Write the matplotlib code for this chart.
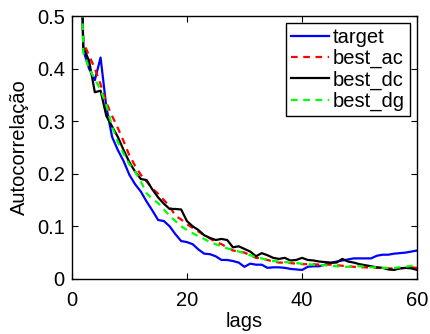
import numpy as np
import matplotlib
matplotlib.use("Agg")
import matplotlib.pyplot as plt

plt.rcParams['font.family'] = ['Liberation Sans', 'DejaVu Sans']

lags = np.arange(1, 61)

target = [0.9, 0.435, 0.40, 0.378, 0.421, 0.327, 0.27, 0.245, 0.224, 0.198,
          0.18, 0.166, 0.147, 0.13, 0.112, 0.11, 0.10, 0.085, 0.072, 0.07,
          0.066, 0.056, 0.048, 0.047, 0.043, 0.036, 0.036, 0.034, 0.031, 0.023,
          0.029, 0.027, 0.027, 0.021, 0.022, 0.022, 0.021, 0.019, 0.018, 0.017,
          0.023, 0.024, 0.024, 0.027, 0.03, 0.033, 0.035, 0.037, 0.039, 0.039,
          0.039, 0.039, 0.044, 0.046, 0.046, 0.048, 0.049, 0.05, 0.052, 0.054]

best_ac = [0.9, 0.45, 0.425, 0.40, 0.37, 0.335, 0.31, 0.287, 0.262, 0.235,
           0.215, 0.198, 0.185, 0.172, 0.162, 0.15, 0.138, 0.12, 0.113, 0.104,
           0.097, 0.09, 0.083, 0.077, 0.07, 0.066, 0.06, 0.054, 0.052, 0.05,
           0.045, 0.04, 0.039, 0.036, 0.033, 0.031, 0.031, 0.03, 0.029, 0.028,
           0.028, 0.028, 0.027, 0.027, 0.027, 0.026, 0.025, 0.024, 0.023, 0.022,
           0.022, 0.021, 0.021, 0.021, 0.02, 0.02, 0.02, 0.021, 0.022, 0.021]

best_dc = [0.9, 0.44, 0.415, 0.355, 0.358, 0.31, 0.29, 0.27, 0.245, 0.222,
           0.204, 0.19, 0.188, 0.17, 0.155, 0.143, 0.133, 0.133, 0.132, 0.11,
           0.10, 0.093, 0.083, 0.078, 0.074, 0.076, 0.074, 0.06, 0.062, 0.057,
           0.052, 0.043, 0.049, 0.045, 0.04, 0.038, 0.04, 0.035, 0.036, 0.04,
           0.036, 0.035, 0.033, 0.032, 0.031, 0.031, 0.038, 0.033, 0.031, 0.028,
           0.026, 0.024, 0.022, 0.021, 0.018, 0.017, 0.02, 0.021, 0.02, 0.017]

best_dg = [0.9, 0.43, 0.40, 0.38, 0.36, 0.33, 0.29, 0.26, 0.238, 0.218,
           0.204, 0.185, 0.163, 0.152, 0.144, 0.132, 0.12, 0.11, 0.10, 0.093,
           0.087, 0.081, 0.076, 0.07, 0.066, 0.062, 0.058, 0.055, 0.052, 0.049,
           0.045, 0.041, 0.039, 0.036, 0.034, 0.033, 0.032, 0.031, 0.03, 0.029,
           0.028, 0.027, 0.026, 0.026, 0.025, 0.024, 0.023, 0.023, 0.024, 0.024,
           0.023, 0.022, 0.022, 0.021, 0.021, 0.021, 0.022, 0.023, 0.025, 0.024]

fig = plt.figure(figsize=(4.3, 3.34), dpi=100)
ax = fig.add_axes([0.167, 0.165, 0.803, 0.787])

ax.plot(lags, target, color='#0000ff', lw=1.6, label='target')
ax.plot(lags, best_ac, color='#ff0000', lw=1.6, ls=(0, (3, 2.5)), label='best_ac')
ax.plot(lags, best_dc, color='black', lw=1.6, label='best_dc')
ax.plot(lags, best_dg, color='#00ff00', lw=1.6, ls=(0, (3, 2.5)), label='best_dg')

ax.set_xlim(0, 60)
ax.set_ylim(0, 0.5)
ax.set_xticks([0, 20, 40, 60])
ax.set_yticks([0, 0.1, 0.2, 0.3, 0.4, 0.5])
ax.set_yticklabels(['0', '0.1', '0.2', '0.3', '0.4', '0.5'])
ax.tick_params(direction='in', top=True, right=True, labelsize=14.5, length=4, width=0.8)
ax.tick_params(axis='x', pad=9)
ax.tick_params(axis='y', pad=5)
for s in ax.spines.values():
    s.set_linewidth(1.0)

ax.set_xlabel('lags', fontsize=14.5, labelpad=1)
ax.set_ylabel('Autocorrelação', fontsize=14.5, labelpad=6)

leg = ax.legend(loc='upper right', fontsize=14.5, handlelength=1.9, handletextpad=0.2,
                borderpad=0.25, labelspacing=0.1, borderaxespad=0.35, fancybox=False,
                framealpha=1)
leg.get_frame().set_edgecolor('black')
leg.get_frame().set_linewidth(1.0)

fig.savefig('out.png', dpi=100)
